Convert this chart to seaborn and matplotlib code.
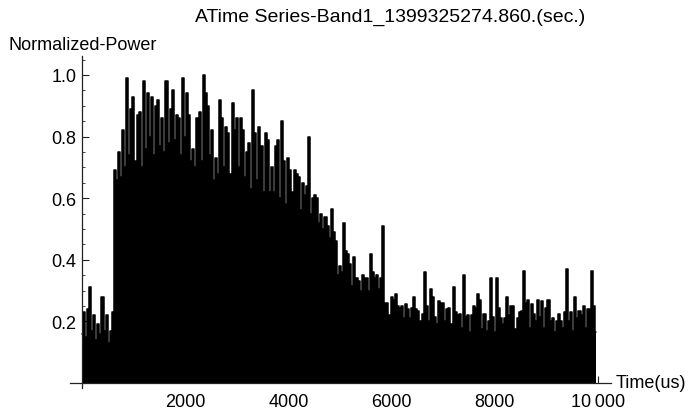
import numpy as np
import pandas as pd
import matplotlib
matplotlib.use("Agg")
import matplotlib.pyplot as plt
from matplotlib.ticker import MultipleLocator, FixedLocator
import seaborn as sns

sns.set_style("ticks")
plt.rcParams['font.family'] = ['Liberation Sans', 'DejaVu Sans']
plt.rcParams['text.color'] = 'black'
plt.rcParams['xtick.labelcolor'] = 'black'
plt.rcParams['ytick.labelcolor'] = 'black'

# sampling step of the read-off series (us)
dt_us = 40
power = [
    0.16, 0.23, 0.15, 0.24, 0.31, 0.17, 0.22, 0.14, 0.19, 0.16,
    0.28, 0.17, 0.22, 0.13, 0.17, 0.23, 0.69, 0.66, 0.75, 0.67,
    0.82, 0.70, 0.99, 0.74, 0.89, 0.93, 0.72, 0.87, 0.88, 0.70,
    0.98, 0.76, 0.94, 0.80, 0.93, 0.74, 0.90, 0.92, 0.77, 0.86,
    0.75, 0.98, 0.78, 0.89, 0.95, 0.79, 0.87, 0.86, 0.74, 0.99,
    0.80, 0.94, 0.87, 0.72, 0.76, 0.70, 0.86, 0.88, 0.72, 1.00,
    0.94, 0.90, 0.74, 0.82, 0.66, 0.73, 0.68, 0.92, 0.86, 0.70,
    0.83, 0.81, 0.68, 0.91, 0.82, 0.86, 0.70, 0.86, 0.82, 0.67,
    0.75, 0.78, 0.63, 0.95, 0.81, 0.66, 0.83, 0.77, 0.62, 0.81,
    0.79, 0.62, 0.70, 0.62, 0.77, 0.79, 0.60, 0.85, 0.72, 0.58,
    0.73, 0.69, 0.62, 0.69, 0.68, 0.67, 0.56, 0.65, 0.61, 0.64,
    0.80, 0.55, 0.60, 0.61, 0.60, 0.52, 0.55, 0.50, 0.54, 0.51,
    0.47, 0.565, 0.49, 0.46, 0.35, 0.38, 0.36, 0.52, 0.43, 0.42,
    0.385, 0.315, 0.41, 0.34, 0.33, 0.30, 0.35, 0.34, 0.34, 0.30,
    0.42, 0.36, 0.34, 0.35, 0.305, 0.34, 0.51, 0.26, 0.26, 0.22,
    0.28, 0.27, 0.29, 0.25, 0.245, 0.25, 0.21, 0.255, 0.24, 0.21,
    0.245, 0.28, 0.24, 0.235, 0.20, 0.225, 0.36, 0.25, 0.20, 0.305,
    0.28, 0.215, 0.19, 0.265, 0.26, 0.26, 0.20, 0.24, 0.245, 0.19,
    0.31, 0.23, 0.22, 0.225, 0.18, 0.35, 0.215, 0.22, 0.165, 0.22,
    0.25, 0.245, 0.29, 0.27, 0.175, 0.225, 0.17, 0.20, 0.34, 0.215,
    0.165, 0.34, 0.245, 0.21, 0.19, 0.21, 0.28, 0.22, 0.25, 0.25,
    0.175, 0.21, 0.23, 0.235, 0.365, 0.26, 0.27, 0.18, 0.255, 0.225,
    0.20, 0.27, 0.215, 0.265, 0.18, 0.245, 0.27, 0.20, 0.21, 0.165,
    0.20, 0.225, 0.20, 0.18, 0.23, 0.37, 0.20, 0.23, 0.17, 0.28,
    0.21, 0.235, 0.22, 0.25, 0.18, 0.24, 0.24, 0.365, 0.25, 0.165,
]
time_us = np.arange(len(power)) * dt_us

x_ticks = [2000, 4000, 6000, 8000, 10000]
x_labels = ["2000", "4000", "6000", "8000", "10\u2009000"]
y_ticks = [0.2, 0.4, 0.6, 0.8, 1.0]
y_labels = ["0.2", "0.4", "0.6", "0.8", "1.0"]

df = pd.DataFrame({"t": time_us, "p": power})

fig = plt.figure(figsize=(6.9, 4.1), dpi=100)
ax = fig.add_axes([0.1014, 0.0522, 0.7841, 0.8076])

ax.fill_between(df["t"], 0, df["p"], step="mid", color="black", lw=0)
sns.lineplot(data=df, x="t", y="p", color="black", linewidth=1.1,
             drawstyle="steps-mid", ax=ax)

ax.set_xlim(-230, 10250)
ax.set_ylim(-0.015, 1.06)

for s in ["top", "right"]:
    ax.spines[s].set_visible(False)
ax.spines["left"].set_position(("data", 0))
ax.spines["bottom"].set_position(("data", 0))
for s in ["left", "bottom"]:
    ax.spines[s].set_color("#222222")
    ax.spines[s].set_linewidth(0.9)

ax.xaxis.set_major_locator(FixedLocator(x_ticks))
ax.set_xticklabels(x_labels)
ax.xaxis.set_minor_locator(MultipleLocator(500))
ax.yaxis.set_major_locator(FixedLocator(y_ticks))
ax.set_yticklabels(y_labels)
ax.yaxis.set_minor_locator(MultipleLocator(0.05))

ax.tick_params(axis="both", which="major", direction="in", length=5,
               width=0.8, color="#222222", labelsize=13)
ax.tick_params(axis="both", which="minor", direction="in", length=2.5,
               width=0.6, color="#222222")
ax.tick_params(axis="x", which="major", pad=7)
ax.tick_params(axis="y", which="major", pad=4)

ax.set_xlabel("")
ax.set_ylabel("")

fig.text(390 / 690, 1 - 17 / 410, "ATime Series-Band1_1399325274.860.(sec.)",
         ha="center", va="center", fontsize=14)
fig.text(8 / 690, 1 - 45 / 410, "Normalized-Power", ha="left", va="center",
         fontsize=13)
fig.text(616 / 690, 1 - 384 / 410, "Time(us)", ha="left", va="center",
         fontsize=13)

fig.savefig("out.png", dpi=100)
